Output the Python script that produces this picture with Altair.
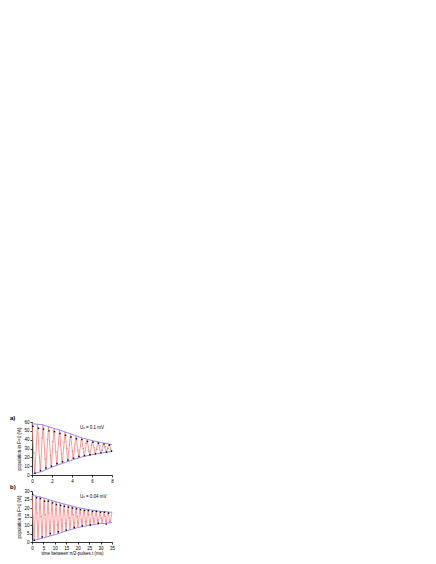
import altair as alt
import pandas as pd

# ---------------- panel a) ----------------
fit_a_t = [0.0, 0.275, 0.55, 0.825, 1.1, 1.375, 1.65, 1.925, 2.2, 2.475, 2.75, 3.025,
           3.3, 3.575, 3.85, 4.125, 4.4, 4.675, 4.95, 5.225, 5.5, 5.775, 6.05, 6.325,
           6.6, 6.875, 7.15, 7.425, 7.7, 7.975]
fit_a_y = [58, 1.5, 57.8, 3.5, 56.8, 5.8, 55, 8.5, 53, 11, 51, 13,
           49, 15, 46.5, 17.5, 44.5, 19.5, 42, 21, 40.5, 22.5, 39, 23.5,
           37.5, 24.8, 36, 25.5, 35, 26.5]
env_a_t = [0, 1, 2, 3, 4, 5, 6, 7, 8]
env_a_up = [58, 57, 53.5, 50, 46, 42, 39, 36.5, 34.5]
env_a_lo = [1, 4, 9, 13, 17, 20.5, 23, 25, 26.5]
blk_a_t = [0.1, 0.3, 0.65, 0.85, 1.15, 1.4, 1.7, 1.95, 2.25, 2.5, 2.8, 3.05, 3.35, 3.6,
           3.9, 4.15, 4.45, 4.7, 5.0, 5.25, 5.55, 5.8, 6.1, 6.35, 6.65, 6.9, 7.2, 7.45,
           7.75, 7.95]
blk_a_y = [55, 2, 53, 5, 52, 8, 50, 10, 49, 13, 47, 15, 45, 17,
           43, 19, 41, 21, 40, 22, 38, 23, 37, 24, 36, 25, 35, 26,
           34, 27]
gry_a_t = [0.2, 0.45, 0.75, 1.0, 1.3, 1.55, 1.85, 2.1, 2.4, 2.65, 2.95, 3.2, 3.5, 3.75,
           4.05, 4.3, 4.6, 4.85, 5.15, 5.4, 5.7, 5.95, 6.25, 6.5, 6.8, 7.05, 7.35, 7.6, 7.85]
gry_a_y = [25, 35, 20, 42, 18, 40, 22, 38, 26, 36, 24, 37, 30, 34,
           27, 35, 28, 33, 30, 36, 27, 34, 31, 29, 33, 28, 32, 30, 29]

# ---------------- panel b) ----------------
fit_b_t = [0.0, 0.875, 1.75, 2.625, 3.5, 4.375, 5.25, 6.125, 7.0, 7.875, 8.75, 9.625,
           10.5, 11.375, 12.25, 13.125, 14.0, 14.875, 15.75, 16.625, 17.5, 18.375,
           19.25, 20.125, 21.0, 21.875, 22.75, 23.625, 24.5, 25.375, 26.25, 27.125,
           28.0, 28.875, 29.75, 30.625, 31.5, 32.375, 33.25, 34.125, 35.0]
fit_b_y = [27.5, 0.6, 27.3, 1.3, 26.8, 2.2, 26, 2.8, 25.3, 3.5, 24.5, 4.2,
           23.6, 4.8, 23, 5.6, 22.4, 6.4, 21.8, 7.0, 21.2, 7.7,
           20.6, 8.5, 20.1, 9.0, 19.6, 9.5, 19.1, 9.9, 18.8, 10.2,
           18.5, 10.5, 18.1, 10.8, 17.9, 11.0, 17.7, 11.2, 17.5]
env_b_t = [0, 5, 10, 15, 20, 25, 30, 35]
env_b_up = [27.5, 26, 23.8, 22, 20.3, 19, 18, 17.5]
env_b_lo = [0.5, 2.5, 4.3, 6.5, 8.5, 9.8, 10.8, 11.4]
blk_b_t = [0.3, 2.0, 3.7, 5.5, 7.2, 9.0, 10.7, 12.5, 14.2, 16.0, 17.7, 19.5, 21.2,
           23.0, 24.7, 26.5, 28.2, 30.0, 31.7, 33.5, 1.0, 4.5, 8.0, 11.5, 15.0,
           18.5, 22.0, 25.5, 29.0, 32.5]
blk_b_y = [28, 26, 25.5, 24, 24, 23, 22, 21.5, 21, 20.5, 20, 19.5, 19,
           18.5, 18.5, 18, 18, 17.5, 17.5, 17, 1, 3, 5, 6, 7,
           8.5, 9.5, 10, 11, 10.5]
gry_b_t = [0.5, 2.3, 4.0, 5.8, 7.5, 9.3, 11.0, 12.8, 14.6, 16.3, 18.0, 19.8, 21.5,
           23.3, 25.0, 26.8, 28.5, 30.3, 32.0, 33.8]
gry_b_y = [14, 17, 15, 16, 17, 12, 10, 13, 11, 14, 16, 15, 13,
           12, 16, 14, 13, 14, 15, 12]

FONT = "Liberation Sans"
RED = "#ff8080"
BLUE = "#8f8fff"


def panel(fit_t, fit_y, env_t, env_up, env_lo, bt, by, gt, gy,
          xmax, xstep, ymax, ystep, tag, note, height, show_xtitle):
    fit = pd.DataFrame({"t": fit_t, "y": fit_y})
    env = pd.DataFrame({"t": env_t + env_t,
                        "y": env_up + env_lo,
                        "g": ["up"] * len(env_t) + ["lo"] * len(env_t)})
    blk = pd.DataFrame({"t": bt, "y": by})
    gry = pd.DataFrame({"t": gt, "y": gy})
    xs = alt.Scale(domain=[0, xmax], nice=False)
    ys = alt.Scale(domain=[0, ymax], nice=False)
    common = dict(labelFontSize=4.5, titleFontSize=4.5, tickSize=2, labelPadding=1,
                  domainColor="black", tickColor="black", grid=False,
                  labelFont=FONT, titleFont=FONT, titleFontWeight="normal",
                  labelOverlap=False, labelColor="black", titleColor="black",
                  domainWidth=0.8, tickWidth=0.8, labelFlush=False)
    xax = alt.Axis(values=list(range(0, xmax + 1, xstep)),
                   title=("time between π/2-pulses t (ms)" if show_xtitle else None),
                   titlePadding=1, **common)
    yax = alt.Axis(values=list(range(0, ymax + 1, ystep)),
                   title="population in F=1 (%)", titlePadding=2, **common)
    bx = alt.X("t:Q", scale=xs, axis=xax)
    by_ = alt.Y("y:Q", scale=ys, axis=yax)
    line = alt.Chart(fit).mark_line(color=RED, strokeWidth=0.9, opacity=0.9).encode(
        x=bx, y=by_)
    envl = alt.Chart(env).mark_line(color=BLUE, strokeWidth=1).encode(
        x=bx, y=by_, detail="g:N")
    gp = alt.Chart(gry).mark_point(shape="circle", filled=True, size=2,
                                   color="#999999", opacity=1).encode(x=bx, y=by_)
    bp = alt.Chart(blk).mark_point(shape="square", filled=True, size=2,
                                   color="black", opacity=1).encode(x=bx, y=by_)
    lab = alt.Chart(pd.DataFrame({"s": [tag]})).mark_text(
        font=FONT, fontSize=6, fontWeight="bold", align="left", baseline="middle").encode(
        text="s:N", x=alt.value(-22), y=alt.value(-4))
    nt = alt.Chart(pd.DataFrame({"s": [note]})).mark_text(
        font=FONT, fontSize=4.5, align="left", baseline="middle").encode(
        text="s:N", x=alt.value(48), y=alt.value(6))
    return alt.layer(line, envl, gp, bp, lab, nt).properties(width=80, height=height)


pa = panel(fit_a_t, fit_a_y, env_a_t, env_a_up, env_a_lo, blk_a_t, blk_a_y,
           gry_a_t, gry_a_y, 8, 2, 60, 10, "a)", "Uₓ = 0.1 mV", 53, False)
pb = panel(fit_b_t, fit_b_y, env_b_t, env_b_up, env_b_lo, blk_b_t, blk_b_y,
           gry_b_t, gry_b_y, 35, 5, 30, 5, "b)", "Uₓ = 0.04 mV", 51, True)

chart = alt.vconcat(pa, pb, spacing=1).properties(
    padding={"left": 2, "top": 407, "right": 5, "bottom": 2}
).configure(background="white").configure_view(stroke=None)

chart.save("out.html", embed_options={"renderer": "svg", "actions": False})
